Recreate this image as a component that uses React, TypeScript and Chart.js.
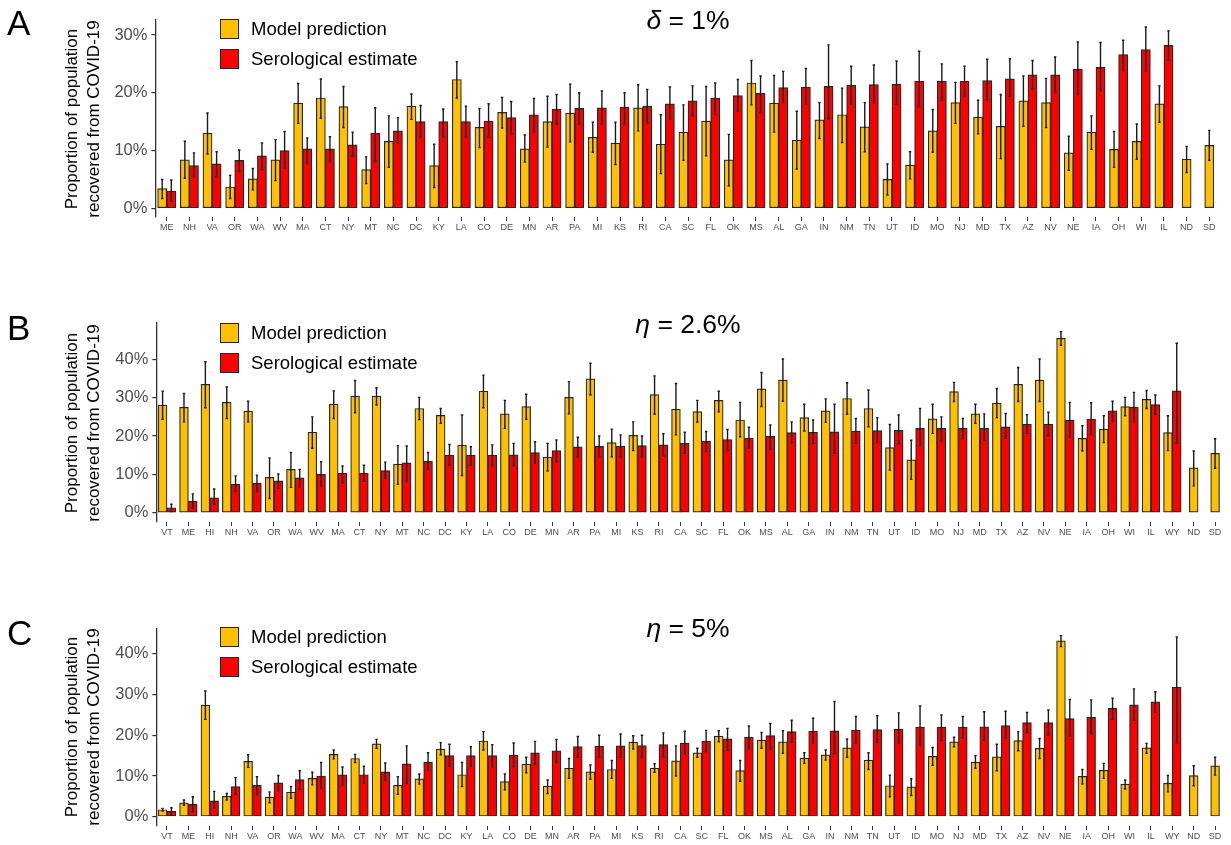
import React, { useEffect, useRef } from "react";
import { Chart, registerables } from "chart.js";

Chart.register(...registerables);

const FONT = '"Liberation Sans", Arial, Helvetica, sans-serif';

// ---------- categories ----------
const statesA = ["ME","NH","VA","OR","WA","WV","MA","CT","NY","MT","NC","DC","KY","LA","CO","DE","MN","AR","PA","MI","KS","RI","CA","SC","FL","OK","MS","AL","GA","IN","NM","TN","UT","ID","MO","NJ","MD","TX","AZ","NV","NE","IA","OH","WI","IL","ND","SD"];
const statesBC = ["VT","ME","HI","NH","VA","OR","WA","WV","MA","CT","NY","MT","NC","DC","KY","LA","CO","DE","MN","AR","PA","MI","KS","RI","CA","SC","FL","OK","MS","AL","GA","IN","NM","TN","UT","ID","MO","NJ","MD","TX","AZ","NV","NE","IA","OH","WI","IL","WY","ND","SD"];

// ---------- serological estimate (statesBC order, %) ----------
const seroValue = [1.3,3.0,3.9,7.4,7.7,8.3,9.1,10.0,10.3,10.3,11.0,13.0,13.4,15.0,15.0,15.0,15.1,15.7,16.2,17.2,17.3,17.4,17.5,17.7,18.1,18.6,19.1,19.5,19.9,20.9,21.0,21.1,21.3,21.4,21.5,22.0,22.0,22.0,22.1,22.4,23.1,23.1,24.1,24.4,26.6,27.5,28.2,31.8,null,null];
const seroLow = [0.3,1.2,2.2,5.5,5.5,6.4,6.7,7.0,7.8,8.2,9.0,8.2,11.4,12.4,12.4,12.3,12.3,12.9,13.3,14.6,14.6,14.6,14.6,14.8,15.5,16.0,16.3,16.8,16.6,18.3,18.1,15.5,18.1,18.3,18.0,17.6,18.7,19.4,18.8,19.4,20.7,20.1,19.8,20.4,23.9,23.7,25.7,18.2,null,null];
const seroHigh = [2.2,4.9,6.2,9.6,9.8,10.1,11.3,13.3,12.2,12.4,13.2,17.4,15.7,17.8,17.2,17.7,18.1,18.5,19.0,19.7,20.0,20.3,20.0,20.6,21.0,21.2,21.7,22.3,22.9,23.7,24.2,28.3,24.6,24.8,25.5,27.2,25.0,24.6,25.8,25.9,25.6,26.2,28.8,28.7,29.1,31.4,30.7,44.2,null,null];

// ---------- panel A: model prediction, delta = 1% (statesA order) ----------
const modelA = [3.4,8.4,13.0,3.7,5.1,8.4,18.2,19.1,17.6,6.7,11.6,17.7,7.4,22.3,14.0,16.6,10.3,15.0,16.5,12.3,11.3,17.4,11.1,13.2,15.1,8.4,21.7,18.2,11.8,15.3,16.2,14.1,5.0,7.5,13.4,18.3,15.8,14.2,18.6,18.3,9.6,13.2,10.2,11.6,18.1,8.5,10.9];
const modelALow = [1.7,5.2,9.4,1.7,3.2,4.8,14.7,15.6,14.0,4.3,7.1,15.4,3.6,19.1,10.5,13.9,8.0,10.6,11.5,9.7,7.6,13.4,6.0,8.3,9.1,3.9,17.9,13.2,6.8,12.1,11.4,9.8,2.3,5.1,9.7,14.7,12.9,8.6,14.2,14.0,6.6,10.2,7.1,8.5,14.9,6.2,8.3];
const modelAHigh = [5.0,11.6,16.5,5.7,6.9,11.9,21.6,22.4,21.1,8.9,16.0,19.8,11.1,25.4,17.3,19.2,12.7,19.4,21.5,14.9,14.9,21.4,16.2,17.9,21.1,12.8,25.6,23.0,16.8,18.3,20.8,18.3,7.7,9.8,17.1,21.8,18.7,19.7,22.9,22.5,12.5,16.0,13.3,14.6,21.2,10.7,13.5];

// ---------- panel B: model prediction, eta = 2.6% (statesBC order) ----------
const modelB = [28.1,27.5,33.5,28.8,26.5,9.2,11.3,21.0,28.3,30.4,30.4,12.7,27.2,25.4,17.6,31.7,25.8,27.7,14.5,30.1,34.9,18.3,20.2,30.8,27.0,26.4,29.3,24.2,32.3,34.6,24.8,26.6,29.8,27.2,17.0,13.8,24.5,31.6,25.8,28.6,33.5,34.6,45.5,19.4,21.8,27.7,29.6,20.9,11.7,15.5];
const modelBLow = [24.4,23.7,27.4,24.6,23.7,3.7,6.6,16.8,24.6,26.1,28.1,7.4,24.3,23.3,9.7,27.4,22.0,24.4,10.9,25.8,30.7,14.6,16.2,25.7,20.3,23.6,26.3,19.8,27.7,29.1,21.3,23.6,25.7,22.4,11.1,8.7,20.7,29.0,23.3,24.8,29.0,29.0,43.7,16.1,18.3,25.3,27.2,16.2,7.0,11.6];
const modelBHigh = [31.7,31.1,39.4,32.8,29.1,14.3,15.7,25.0,31.8,34.5,32.6,17.5,30.1,27.2,25.5,35.9,29.3,30.9,18.1,34.2,39.0,21.8,23.7,35.7,33.7,29.3,31.7,28.8,36.6,40.1,28.3,29.7,33.9,32.0,23.0,18.9,28.3,34.0,28.3,32.4,37.9,40.1,47.2,22.7,25.3,30.1,31.9,25.3,16.1,19.3];

// ---------- panel C: model prediction, eta = 5% (statesBC order) ----------
const modelC = [1.7,3.4,27.4,5.0,13.6,4.8,6.0,9.4,15.3,14.3,17.9,7.7,9.3,16.6,10.3,18.6,8.6,12.9,7.5,11.9,11.0,11.6,18.3,11.9,13.7,15.7,19.8,11.3,18.8,18.4,14.4,15.2,16.9,13.9,7.6,7.3,14.8,18.4,13.4,14.7,18.7,16.8,43.2,9.9,11.4,8.0,16.9,8.2,10.1,12.5];
const modelCLow = [1.4,2.8,23.9,4.1,12.1,3.4,4.5,7.8,14.2,13.3,16.8,5.5,8.0,15.2,7.4,16.4,6.6,10.8,5.7,9.4,9.2,9.4,16.6,10.9,10.0,14.6,18.4,8.7,16.8,15.6,13.1,13.9,14.6,11.6,4.9,5.2,12.6,17.2,11.9,11.3,16.2,14.3,41.8,8.0,9.4,6.8,15.6,6.1,7.6,10.2];
const modelCHigh = [2.0,4.1,30.9,5.7,15.2,6.1,7.4,10.9,16.4,15.3,19.0,9.8,10.5,18.2,13.3,20.9,10.5,14.6,9.0,14.3,12.7,13.8,19.9,13.0,17.4,16.8,21.1,13.8,20.7,21.1,15.7,16.4,19.1,15.7,10.2,9.3,17.0,19.5,15.0,17.8,20.9,19.2,44.5,11.6,13.1,9.0,18.0,10.1,12.5,14.6];

// ---------- axis ticks ----------
const yTicksA = [0, 10, 20, 30];
const yTicksBC = [0, 10, 20, 30, 40];

const pickA = (arr: (number | null)[]) => statesA.map((s) => arr[statesBC.indexOf(s)]);

const seroA = pickA(seroValue);
const seroALow = pickA(seroLow);
const seroAHigh = pickA(seroHigh);

const YELLOW = "#FFC000";
const RED = "#FF0000";
const OUTLINE = "#262626";

type PanelProps = {
  top: number;
  height: number;
  padTop: number;
  xHeight: number;
  yWidth: number;
  padRight: number;
  yMin: number;
  yMax: number;
  yTicks: number[];
  bar: number;
  labels: string[];
  model: (number | null)[];
  modelLow: (number | null)[];
  modelHigh: (number | null)[];
  sero: (number | null)[];
  seroLo: (number | null)[];
  seroHi: (number | null)[];
};

function Panel(p: PanelProps) {
  const ref = useRef<HTMLCanvasElement>(null);
  useEffect(() => {
    const lows = [p.modelLow, p.seroLo];
    const highs = [p.modelHigh, p.seroHi];
    const errorBars = {
      id: "errorBars",
      afterDatasetsDraw(chart: any) {
        const ctx = chart.ctx;
        const y = chart.scales.y;
        ctx.save();
        ctx.strokeStyle = "#1a1a1a";
        ctx.lineWidth = 1.4;
        chart.data.datasets.forEach((ds: any, di: number) => {
          const meta = chart.getDatasetMeta(di);
          meta.data.forEach((el: any, i: number) => {
            const lo = lows[di][i];
            const hi = highs[di][i];
            if (lo == null || hi == null || ds.data[i] == null) return;
            const x = el.x;
            if (!isFinite(x)) return;
            const yl = y.getPixelForValue(lo);
            const yh = y.getPixelForValue(hi);
            ctx.beginPath();
            ctx.moveTo(x, yl);
            ctx.lineTo(x, yh);
            ctx.moveTo(x - 1.2, yl);
            ctx.lineTo(x + 1.2, yl);
            ctx.moveTo(x - 1.2, yh);
            ctx.lineTo(x + 1.2, yh);
            ctx.stroke();
          });
        });
        ctx.restore();
      },
    };
    const chart = new Chart(ref.current as HTMLCanvasElement, {
      type: "bar",
      data: {
        labels: p.labels,
        datasets: [
          {
            label: "Model prediction",
            data: p.model as any,
            backgroundColor: YELLOW,
            borderColor: OUTLINE,
            borderWidth: 1.2,
            borderSkipped: false,
            barThickness: p.bar,
            skipNull: true,
          },
          {
            label: "Serological estimate",
            data: p.sero as any,
            backgroundColor: RED,
            borderColor: OUTLINE,
            borderWidth: 1.2,
            borderSkipped: false,
            barThickness: p.bar,
            skipNull: true,
          },
        ],
      },
      options: {
        animation: false,
        responsive: false,
        devicePixelRatio: 1,
        layout: { padding: { top: p.padTop, right: p.padRight, left: 0, bottom: 0 } },
        plugins: { legend: { display: false }, tooltip: { enabled: false }, title: { display: false } },
        scales: {
          x: {
            type: "category",
            offset: true,
            grid: { display: true, offset: false, drawOnChartArea: false, drawTicks: true, tickLength: 4, color: "#333333", lineWidth: 1 },
            border: { display: false },
            ticks: { font: { family: FONT, size: 9 }, color: "#4D4D4D", padding: 1, maxRotation: 0, minRotation: 0, autoSkip: false },
            afterFit: (s: any) => { s.height = p.xHeight; },
          },
          y: {
            type: "linear",
            min: p.yMin,
            max: p.yMax,
            grid: { display: true, drawOnChartArea: false, drawTicks: true, tickLength: 4, color: "#333333", lineWidth: 1.2 },
            border: { display: true, color: "#333333", width: 1.3 },
            ticks: { font: { family: FONT, size: 16.5 }, color: "#4D4D4D", padding: 4, callback: (v: any) => `${v}%` },
            afterBuildTicks: (s: any) => { s.ticks = p.yTicks.map((v) => ({ value: v })); },
            afterFit: (s: any) => { s.width = p.yWidth; },
          },
        },
      } as any,
      plugins: [errorBars],
    });
    return () => chart.destroy();
  }, []);
  return (
    <canvas
      ref={ref}
      width={1231}
      height={p.height}
      style={{ position: "absolute", left: 0, top: p.top, display: "block", width: 1231, height: p.height }}
    />
  );
}

function Overlay({ letter, letterTop, title, titleTop, legendTop, panelTop, panelBottom }: any) {
  const cy = (panelTop + panelBottom) / 2;
  return (
    <>
      <div style={{ position: "absolute", left: 7, top: letterTop, fontFamily: FONT, fontSize: 35, lineHeight: 1, color: "#000" }}>{letter}</div>
      <div style={{ position: "absolute", left: 538, width: 300, top: titleTop, textAlign: "center", fontFamily: FONT, fontSize: 26.5, lineHeight: 1, color: "#000", whiteSpace: "nowrap" }}>{title}</div>
      <div
        style={{
          position: "absolute",
          left: 83 - 130,
          top: cy - 22,
          width: 260,
          height: 44,
          transform: "rotate(-90deg)",
          transformOrigin: "50% 50%",
          textAlign: "center",
          fontFamily: FONT,
          fontSize: 17,
          lineHeight: "22px",
          color: "#000",
          whiteSpace: "nowrap",
        }}
      >
        <div>Proportion of population</div>
        <div>recovered from COVID-19</div>
      </div>
      {[
        { c: YELLOW, t: "Model prediction", y: legendTop },
        { c: RED, t: "Serological estimate", y: legendTop + 29.5 },
      ].map((r) => (
        <div key={r.t} style={{ position: "absolute", left: 220, top: r.y, height: 20, display: "flex", alignItems: "center" }}>
          <div style={{ width: 17, height: 18, background: r.c, border: `1.2px solid ${OUTLINE}` }} />
          <div style={{ marginLeft: 12, fontFamily: FONT, fontSize: 18.5, lineHeight: "20px", color: "#000", whiteSpace: "nowrap" }}>{r.t}</div>
        </div>
      ))}
    </>
  );
}

export default function App() {
  return (
    <div style={{ position: "absolute", left: 0, top: 0, width: 1231, height: 845, background: "#fff", overflow: "hidden" }}>
      <Panel
        top={0} height={295} padTop={20} xHeight={78} yWidth={155.4} padRight={10.4}
        yMin={-1.5} yMax={32.6} yTicks={yTicksA} bar={9.1}
        labels={statesA} model={modelA} modelLow={modelALow} modelHigh={modelAHigh}
        sero={seroA} seroLo={seroALow} seroHi={seroAHigh}
      />
      <Panel
        top={300} height={300} padTop={23} xHeight={78.1} yWidth={156.3} padRight={5.2}
        yMin={-2.4} yMax={49.5} yTicks={yTicksBC} bar={8.8}
        labels={statesBC} model={modelB} modelLow={modelBLow} modelHigh={modelBHigh}
        sero={seroValue} seroLo={seroLow} seroHi={seroHigh}
      />
      <Panel
        top={605} height={240} padTop={23.3} xHeight={19} yWidth={156.3} padRight={5.2}
        yMin={-2.3} yMax={46.3} yTicks={yTicksBC} bar={8.8}
        labels={statesBC} model={modelC} modelLow={modelCLow} modelHigh={modelCHigh}
        sero={seroValue} seroLo={seroLow} seroHi={seroHigh}
      />
      <Overlay letter="A" letterTop={5} title={<><span style={{ fontStyle: "italic" }}>δ</span> = 1%</>} titleTop={6.6} legendTop={19} panelTop={20} panelBottom={217} />
      <Overlay letter="B" letterTop={310} title={<><span style={{ fontStyle: "italic" }}>η</span> = 2.6%</>} titleTop={311} legendTop={323} panelTop={323} panelBottom={522} />
      <Overlay letter="C" letterTop={615} title={<><span style={{ fontStyle: "italic" }}>η</span> = 5%</>} titleTop={614.6} legendTop={627} panelTop={628} panelBottom={826} />
    </div>
  );
}
